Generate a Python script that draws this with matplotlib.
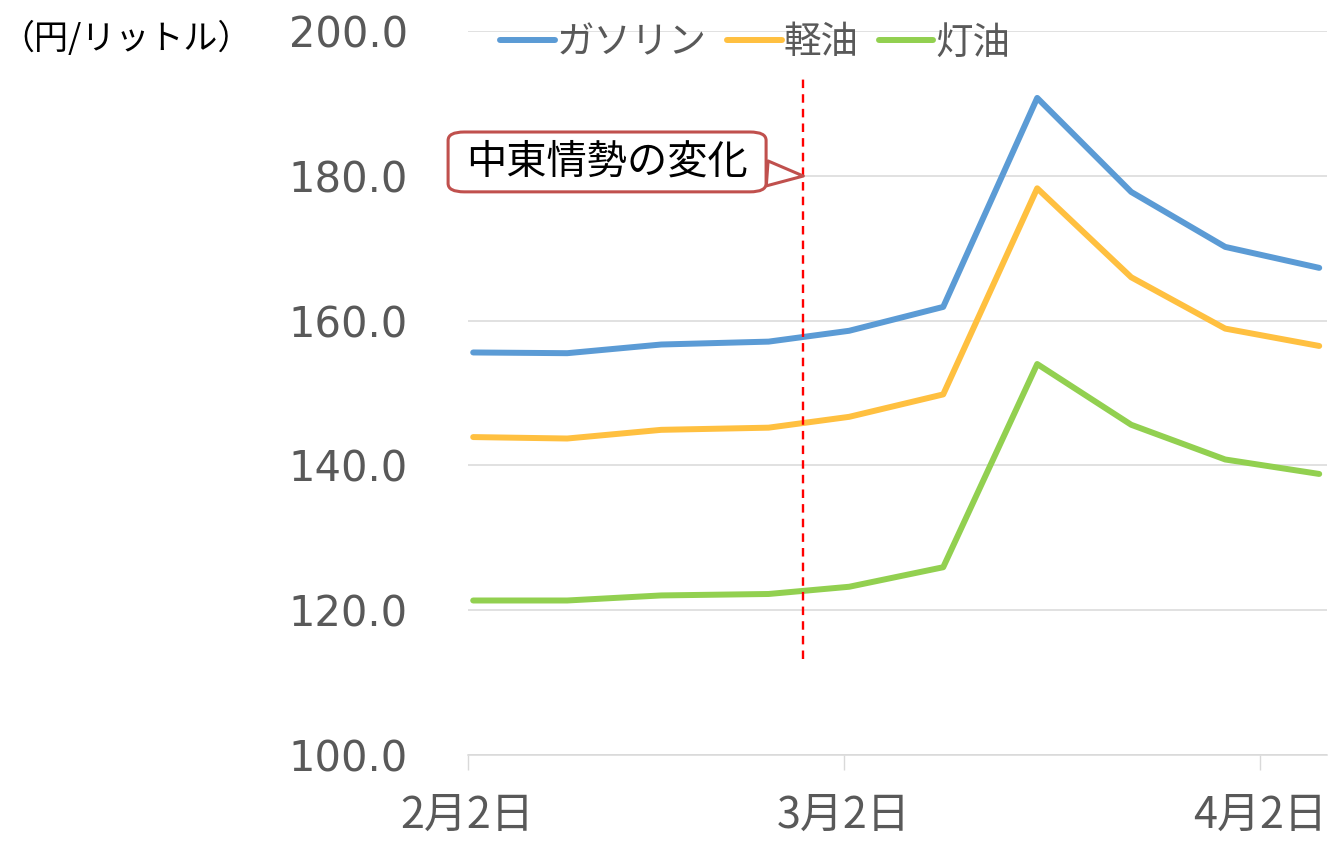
"""Weekly retail fuel prices (yen / litre) around the Middle East shock."""
import datetime as dt

import matplotlib
matplotlib.use("Agg")
import matplotlib.pyplot as plt
import matplotlib.dates as mdates

plt.rcParams["font.family"] = ["Noto Sans CJK JP", "DejaVu Sans"]

# survey dates (weekly) and prices
DATES = ["2026-02-02", "2026-02-09", "2026-02-16", "2026-02-24", "2026-03-02",
         "2026-03-09", "2026-03-16", "2026-03-23", "2026-03-30", "2026-04-06"]
GASOLINE = [155.6, 155.5, 156.7, 157.1, 158.6, 161.9, 190.8, 177.8, 170.2, 167.3]
DIESEL = [143.9, 143.7, 144.9, 145.2, 146.7, 149.8, 178.3, 166.0, 158.9, 156.5]
KEROSENE = [121.3, 121.3, 122.0, 122.2, 123.2, 125.9, 154.0, 145.6, 140.8, 138.8]

SERIES = ["ガソリン", "軽油", "灯油"]
COLORS = ["#5B9BD5", "#FFC040", "#92D050"]

X_TICKS = ["2026-02-02", "2026-03-02", "2026-04-02"]
X_RANGE = ["2026-02-02", "2026-04-07"]
Y_TICKS = [100, 120, 140, 160, 180, 200]

EVENT_DATE = "2026-02-27"
EVENT_SPAN = (113.2, 193.7)      # extent of the red marker line (yen)
EVENT_LABEL = "中東情勢の変化"
EVENT_POINT = 180.0
UNIT_LABEL = "（円/リットル）"

GRID = "#D9D9D9"
TXT = "#595959"


def to_dt(s):
    return dt.datetime.strptime(s, "%Y-%m-%d")


# excel draws each day's point a little inside its day slot
OFFSET = dt.timedelta(hours=10)
x = [to_dt(d) + OFFSET for d in DATES]

fig = plt.figure(figsize=(13.36, 8.42), dpi=100)
ax = fig.add_axes([0.350, 0.1039, 0.6433, 0.8588])

for name, vals, col in zip(SERIES, [GASOLINE, DIESEL, KEROSENE], COLORS):
    ax.plot(x, vals, color=col, lw=4.3, label=name, solid_capstyle="round",
            solid_joinstyle="round", zorder=3)

ax.vlines(to_dt(EVENT_DATE), *EVENT_SPAN, colors="#FF0000", lw=1.7,
          linestyles=(0, (3.6, 2.6)), zorder=5)

ax.annotate(EVENT_LABEL, xy=(to_dt(EVENT_DATE), EVENT_POINT),
            xytext=(0.1623, 0.8195), textcoords="axes fraction",
            ha="center", va="center", fontsize=29, color="black",
            bbox=dict(boxstyle="round,pad=0.45,rounding_size=0.4", fc="white",
                      ec="#C0504D", lw=2.2, mutation_aspect=0.52),
            arrowprops=dict(arrowstyle="wedge,tail_width=0.9,shrink_factor=0.5",
                            mutation_scale=20, fc="white", ec="#C0504D", lw=2.2,
                            shrinkA=0, shrinkB=0),
            zorder=6)

ax.set_ylim(Y_TICKS[0], Y_TICKS[-1])
ax.set_yticks(Y_TICKS)
ax.set_yticklabels([f"{v:.1f}" for v in Y_TICKS], family="DejaVu Sans",
                   fontsize=30, color=TXT)
ax.tick_params(axis="y", length=0, pad=43)

ax.set_xlim(to_dt(X_RANGE[0]), to_dt(X_RANGE[1]))
ax.set_xticks([to_dt(d) for d in X_TICKS])
ax.xaxis.set_major_formatter(mdates.DateFormatter("%-m月%-d日"))
ax.tick_params(axis="x", length=11, width=1, color=GRID, labelsize=31,
               labelcolor=TXT, pad=17)

ax.grid(axis="y", color=GRID, lw=1.1)
ax.set_axisbelow(True)
for s in ["top", "right", "left"]:
    ax.spines[s].set_visible(False)
ax.spines["bottom"].set_color(GRID)
ax.spines["bottom"].set_linewidth(1.1)

leg = ax.legend(loc="center left", bbox_to_anchor=(0.038, 0.984), ncol=3,
                frameon=False, fontsize=27, handlelength=1.45, handletextpad=0.05,
                columnspacing=0.55, borderaxespad=0, borderpad=0)
for t in leg.get_texts():
    t.set_color(TXT)

fig.text(0.0, 0.953, UNIT_LABEL, fontsize=24.5, color="black", ha="left",
         va="center")

fig.savefig("out.png", dpi=100)
